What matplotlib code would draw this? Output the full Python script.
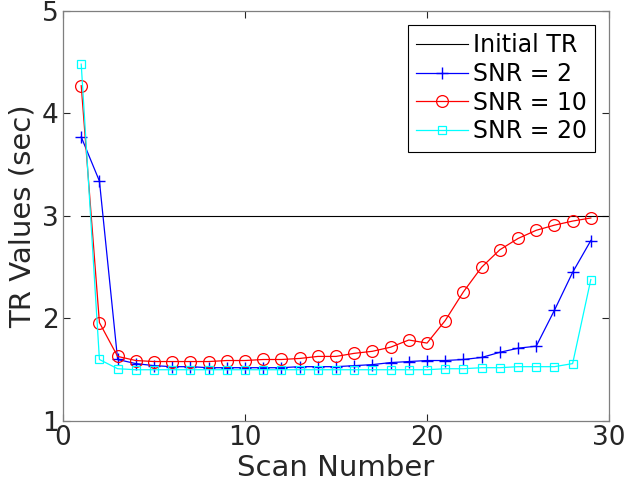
import numpy as np
import matplotlib
matplotlib.use("Agg")
import matplotlib.pyplot as plt

# scan index
scans = np.arange(1, 30)

# TR values per scan for each SNR
tr_snr2 = [3.77, 3.34, 1.60, 1.56, 1.54, 1.53, 1.53, 1.52, 1.52, 1.52,
           1.52, 1.52, 1.53, 1.53, 1.53, 1.54, 1.55, 1.57, 1.58, 1.59,
           1.59, 1.60, 1.62, 1.67, 1.71, 1.73, 2.08, 2.45, 2.76]
tr_snr10 = [4.27, 1.96, 1.63, 1.59, 1.58, 1.58, 1.58, 1.58, 1.59, 1.59,
            1.60, 1.60, 1.61, 1.63, 1.63, 1.66, 1.68, 1.72, 1.79, 1.76,
            1.98, 2.26, 2.50, 2.67, 2.78, 2.86, 2.91, 2.95, 2.98]
tr_snr20 = [4.48, 1.60, 1.51, 1.50, 1.50, 1.50, 1.50, 1.50, 1.50, 1.50,
            1.50, 1.50, 1.50, 1.50, 1.50, 1.50, 1.50, 1.50, 1.50, 1.50,
            1.51, 1.51, 1.52, 1.52, 1.53, 1.53, 1.53, 1.56, 2.38]

# initial TR reference line
init_x = [1, 30]
init_y = [3, 3]

fig = plt.figure(figsize=(6.24, 4.93), dpi=100)
ax = fig.add_axes([0.101, 0.146, 0.875, 0.832])

ax.plot(init_x, init_y, color='k', lw=0.8, label='Initial TR')
ax.plot(scans, tr_snr2, color='#0000ff', lw=0.9, marker='+', ms=8, mew=1.0, label='SNR = 2')
ax.plot(scans, tr_snr10, color='#ff0000', lw=0.9, marker='o', ms=8.5, mfc='none', mew=0.9, label='SNR = 10')
ax.plot(scans, tr_snr20, color='#00ffff', lw=0.9, marker='s', ms=6, mfc='none', mew=0.9, label='SNR = 20')

ax.set_xlim(0, 30)
ax.set_ylim(1, 5)
ax.set_xticks([0, 10, 20, 30])
ax.set_yticks([1, 2, 3, 4, 5])

grey = '#262626'
ax.tick_params(direction='in', top=True, right=True, length=5, width=0.8,
               labelsize=19, colors=grey, pad=3)
for s in ax.spines.values():
    s.set_color('#7f7f7f')
    s.set_linewidth(0.9)

ax.set_xlabel('Scan Number', fontsize=21, color=grey, labelpad=2)
ax.set_ylabel('TR Values (sec)', fontsize=21, color=grey, labelpad=4)

leg = ax.legend(loc='upper right', fontsize=17, fancybox=False, framealpha=1,
                edgecolor='k', handlelength=2.2, handletextpad=0.2,
                labelspacing=0.2, borderpad=0.35, borderaxespad=0.6)
leg.get_frame().set_linewidth(0.8)

fig.savefig('out.png', dpi=100)
